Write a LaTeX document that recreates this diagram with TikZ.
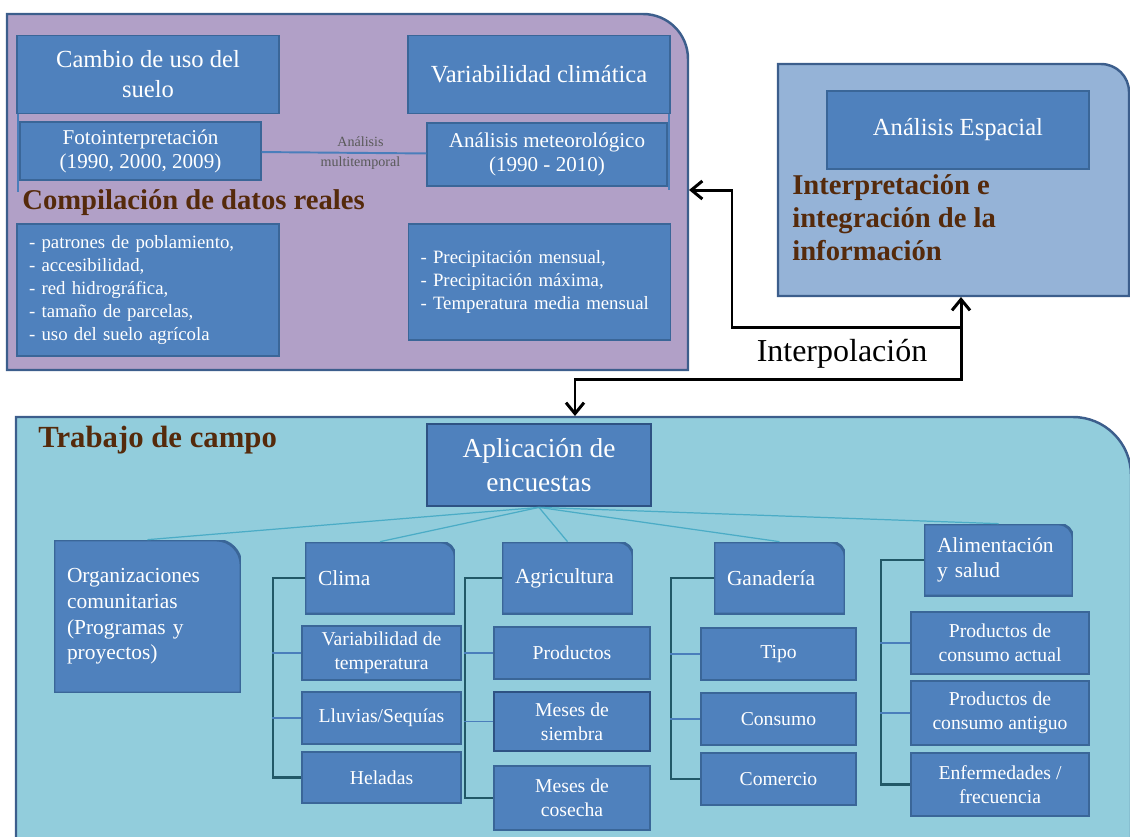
\documentclass[tikz,border=0pt]{standalone}
\usepackage{fontspec}
\setmainfont{Liberation Serif}
\usepackage{xcolor}
\usepackage{tikz}
\usetikzlibrary{arrows.meta}

\definecolor{boxblue}{HTML}{4F81BD}
\definecolor{boxline}{HTML}{3A6698}
\definecolor{darkline}{HTML}{2E5283}
\definecolor{frameline}{HTML}{3C5E8C}
\definecolor{lilac}{HTML}{B1A0C7}
\definecolor{skyblue}{HTML}{95B3D7}
\definecolor{aqua}{HTML}{92CDDC}
\definecolor{titlebrown}{HTML}{552A0B}
\definecolor{treeline}{HTML}{4BACC6}
\definecolor{bracketline}{HTML}{215867}
\definecolor{branchline}{HTML}{4A7EBB}

\newcommand{\fsA}{\fontsize{14}{17}\selectfont}     % header boxes
\newcommand{\fsC}{\fontsize{12}{13.6}\selectfont}   % sub boxes
\newcommand{\fsL}{\fontsize{10.7}{13}\selectfont}   % lists
\newcommand{\fsM}{\fontsize{8}{11.3}\selectfont}    % small label
\newcommand{\fsT}{\fontsize{16.3}{18.7}\selectfont} % titles
\newcommand{\fsE}{\fontsize{15.6}{19.3}\selectfont} % encuestas
\newcommand{\fsB}{\fontsize{12.2}{14.6}\selectfont} % level two
\newcommand{\fsS}{\fontsize{11.2}{13.6}\selectfont} % level three
\newcommand{\fsI}{\fontsize{18.2}{20}\selectfont}   % interpolacion

\begin{document}
\begin{tikzpicture}[x=0.02cm, y=-0.02cm,
    box/.style={draw=boxline, fill=boxblue, line width=0.8pt, text=white, align=center, inner sep=0pt},
    sz/.style 2 args={minimum width=#1*0.2mm, minimum height=#2*0.2mm},
    lbox/.style={align=left, inner xsep=2.4mm},
    tabbox/.style={text=white, align=left, inner xsep=2.6mm, inner ysep=0pt,
        path picture={\filldraw[fill=boxblue, draw=boxline, line width=1.6pt]
            (path picture bounding box.south west) -- (path picture bounding box.north west)
            -- ([xshift=-#1]path picture bounding box.north east)
            .. controls ([xshift=-0.448*#1]path picture bounding box.north east)
            and ([yshift=-0.448*#1]path picture bounding box.north east)
            .. ([yshift=-#1]path picture bounding box.north east)
            -- (path picture bounding box.south east) -- cycle;}},
    tabbox/.default=8pt,
    frame/.style={draw=frameline, line width=1.4pt},
    title/.style={text=titlebrown, font=\fsT\bfseries, anchor=west, inner sep=0pt, align=left},
    flow/.style={line width=1.7pt, >={Straight Barb[length=2.2mm,width=3.6mm]}},
    link/.style={draw=branchline, line width=1.1pt},
    tree/.style={draw=treeline, line width=0.7pt},
    bracket/.style={draw=bracketline, line width=1.3pt},
    branch/.style={draw=branchline, line width=0.8pt},
    ]
    \useasboundingbox (0,0) rectangle (1130,836);
    \clip (0,0) rectangle (1130,836);

    % frames
    \filldraw[frame, fill=lilac] (7,370) -- (7,14) -- (643,14)
        .. controls (668,14) and (688,34) .. (688,59) -- (688,370) -- cycle;
    \filldraw[frame, fill=skyblue] (778,296) -- (778,64) -- (1101,64)
        .. controls (1116.5,64) and (1129,76.5) .. (1129,92) -- (1129,296) -- cycle;
    \filldraw[frame, fill=aqua] (16,860) -- (16,417) -- (1073,417)
        .. controls (1105,417) and (1131,443) .. (1131,475) -- (1131,860) -- cycle;

    % compilacion de datos
    \node[box, sz={262}{78}, font=\fsA] (cambio) at (148,74.5) {Cambio de uso del\\suelo};
    \node[box, sz={262}{78}, font=\fsA] (variab) at (539,74.5) {Variabilidad climática};
    \node[box, sz={241}{58}, font=\fsC] (foto) at (140.5,151) {Fotointerpretación\\(1990, 2000, 2009)};
    \node[box, sz={240}{63}, font=\fsC] (meteo) at (547,154.5) {Análisis meteorológico\\(1990 - 2010)};
    \draw[link] (foto) -- node[pos=0.6, text=black!65, font=\fsM, align=center] (multi) {Análisis\\multitemporal} (meteo);
    \draw[branch] ([xshift=1pt]cambio.south west) -- ++(0,78);
    \draw[branch] ([xshift=-1pt]variab.south east) -- ++(0,76);
    \node[title] (compil) at (22,203) {Compilación de datos reales};
    \node[box, lbox, sz={262}{132}, text width=47.6mm, font=\fsL] (patron) at (148,290)
        {- patrones de poblamiento,\\- accesibilidad,\\- red hidrográfica,\\- tamaño de parcelas,\\- uso del suelo agrícola};
    \node[box, lbox, sz={261}{116}, text width=47.6mm, font=\fsL] (precip) at (539.5,282)
        {- Precipitación mensual,\\- Precipitación máxima,\\- Temperatura media mensual};

    % analisis espacial
    \node[box, sz={262}{78}, font=\fsA] (espacial) at (958,130) {Análisis Espacial};
    \node[title] (integ) at (792,218) {Interpretación e\\integración de la\\información};

    % trabajo de campo
    \node[title, font=\fontsize{17.5}{20}\selectfont\bfseries] (trabajo) at (38,440) {Trabajo de campo};
    \node[box, sz={224}{82}, font=\fsE, draw=darkline, line width=1.6pt] (apl) at (539,465) {Aplicación de\\encuestas};

    \node[tabbox=14pt, sz={187}{153}, text width=32.2mm, font=\fsB] (org) at (147.5,616.5)
        {Organizaciones\\comunitarias\\(Programas y\\proyectos)};
    \node[tabbox, sz={150}{72}, text width=24.8mm, font=\fsB] (clima) at (380,578) {Clima};
    \node[tabbox, sz={131}{72}, text width=21mm, font=\fsB] (agri) at (567.5,578) {Agricultura};
    \node[tabbox, sz={131}{72}, text width=21mm, font=\fsB] (gana) at (779.5,578) {Ganadería};
    \node[tabbox, sz={149}{72}, text width=24.6mm, font=\fsB] (alim) at (998.5,560) {Alimentación\\y salud};

    \node[box, sz={159}{54}, font=\fsS] (vtemp) at (381.5,653) {Variabilidad de\\temperatura};
    \node[box, sz={159}{52}, font=\fsS] (lluv) at (381.5,718) {Lluvias/Sequías};
    \node[box, sz={159}{51}, font=\fsS] (hel) at (381.5,777.5) {Heladas};

    \node[box, sz={156}{52}, font=\fsS] (prod) at (572,653) {Productos};
    \node[box, sz={156}{59}, font=\fsS, draw=darkline, line width=1.6pt] (siem) at (572,721.5) {Meses de\\siembra};
    \node[box, sz={156}{64}, font=\fsS] (cose) at (572,798) {Meses de\\cosecha};

    \node[box, sz={155}{52}, font=\fsS] (tipo) at (778.5,654) {Tipo};
    \node[box, sz={155}{52}, font=\fsS] (cons) at (778.5,719) {Consumo};
    \node[box, sz={155}{52}, font=\fsS] (come) at (778.5,779) {Comercio};

    \node[box, sz={178}{62}, font=\fsS] (pact) at (1000,643) {Productos de\\consumo actual};
    \node[box, sz={178}{64}, font=\fsS] (pant) at (1000,713) {Productos de\\consumo antiguo};
    \node[box, sz={178}{63}, font=\fsS] (enf) at (1000,784.5) {Enfermedades /\\frecuencia};

    \foreach \n in {org,clima,agri,gana,alim}
        \draw[tree] (apl.south) -- (\n.north);

    \draw[bracket] (clima.west) -- ++(-32,0) |- (hel.west);
    \foreach \n in {vtemp,lluv} \draw[branch] (\n.west) -- ++(-29,0);
    \draw[bracket] (agri.west) -- ++(-37,0) |- (cose.west);
    \foreach \n in {prod,siem} \draw[branch] (\n.west) -- ++(-29,0);
    \draw[bracket] (gana.west) -- ++(-43,0) |- (come.west);
    \foreach \n in {tipo,cons} \draw[branch] (\n.west) -- ++(-30,0);
    \draw[bracket] (alim.west) -- ++(-43,0) |- (enf.west);
    \foreach \n in {pact,pant} \draw[branch] (\n.west) -- ++(-30,0);

    % flechas
    \coordinate (trabtop) at (575,416);
    \coordinate (integbot) at (961,297);
    \coordinate (junct) at (961,327);
    \coordinate (compright) at (689,190);
    \draw[flow, <->] (trabtop) -- ++(0,-37) -| (integbot);
    \draw[flow, ->] (junct) -- ++(-229,0) |- (compright);
    \node[font=\fsI] (interp) at (842,354) {Interpolación};
\end{tikzpicture}
\end{document}
